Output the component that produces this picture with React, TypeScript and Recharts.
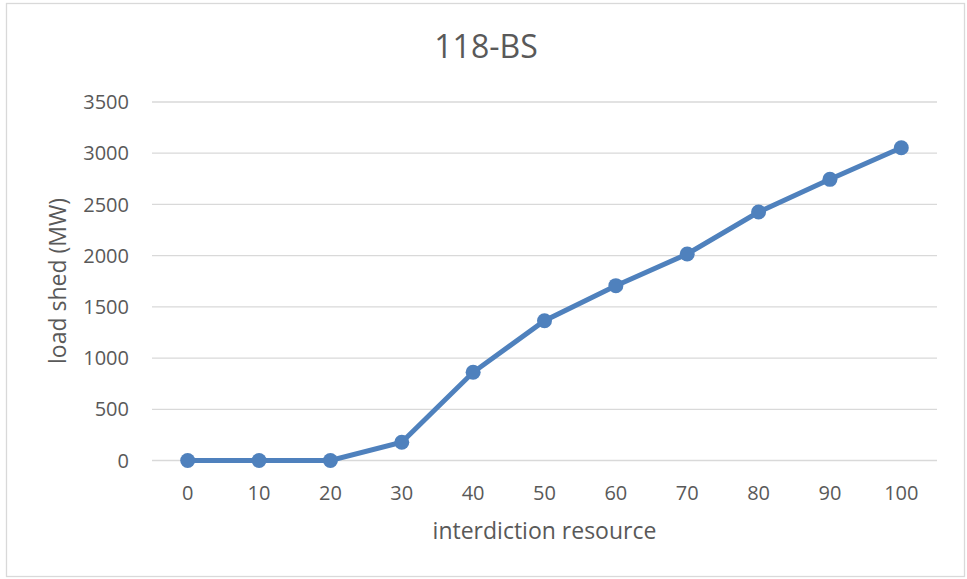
import React from 'react';
import { LineChart, Line, XAxis, YAxis, CartesianGrid, Label } from 'recharts';

const categories: number[] = [0, 10, 20, 30, 40, 50, 60, 70, 80, 90, 100];
const loadShed: number[] = [0, 0, 0, 178, 861, 1365, 1707, 2016, 2426, 2745, 3054];
const yTicks: number[] = [0, 500, 1000, 1500, 2000, 2500, 3000, 3500];

const chartTitle = '118-BS';
const xTitle = 'interdiction resource';
const yTitle = 'load shed (MW)';

const data = categories.map((c, i) => ({ x: String(c), y: loadShed[i] }));

const FONT = '"Open Sans", "Noto Sans", sans-serif';
const TEXT = '#595959';
const GRID = '#d9d9d9';
const BLUE = '#4F81BD';

export default function App() {
  return (
    <div style={{ position: 'absolute', left: 0, top: 0, width: 967, height: 579, background: '#fff', fontFamily: FONT }}>
      <svg width={967} height={579} style={{ position: 'absolute', left: 0, top: 0 }}>
        <rect x={6.5} y={3.5} width={958} height={573} fill="#fff" stroke={GRID} strokeWidth={1.3} />
        <text x={486} y={58} textAnchor="middle" fontSize={32} fill={TEXT} fontFamily={FONT}>
          {chartTitle}
        </text>
      </svg>
      <div style={{ position: 'absolute', left: 0, top: 0 }}>
        <LineChart width={967} height={579} data={data} margin={{ top: 102, right: 30, left: 0, bottom: 0 }}>
          <CartesianGrid horizontal={true} vertical={false} stroke={GRID} strokeWidth={1.3} />
          <XAxis
            dataKey="x"
            type="category"
            height={118.5}
            padding={{ left: 35.7, right: 35.7 }}
            axisLine={false}
            tickLine={false}
            tickSize={0}
            tickMargin={25}
            tick={{ fill: TEXT, fontSize: 20, fontFamily: FONT }}
            interval={0}
          >
            <Label
              content={() => (
                <text x={544.5} y={539} textAnchor="middle" fontSize={23} fill={TEXT} fontFamily={FONT}>
                  {xTitle}
                </text>
              )}
            />
          </XAxis>
          <YAxis
            type="number"
            domain={[0, 3500]}
            ticks={yTicks}
            width={152}
            axisLine={false}
            tickLine={false}
            tickSize={0}
            tickMargin={23}
            tick={{ fill: TEXT, fontSize: 20, fontFamily: FONT }}
            interval={0}
          >
            <Label
              content={() => (
                <text
                  x={66}
                  y={281}
                  transform="rotate(-90 66 281)"
                  textAnchor="middle"
                  fontSize={23}
                  fill={TEXT}
                  fontFamily={FONT}
                >
                  {yTitle}
                </text>
              )}
            />
          </YAxis>
          <Line
            type="linear"
            dataKey="y"
            stroke={BLUE}
            strokeWidth={5}
            dot={{ r: 7.5, fill: BLUE, stroke: BLUE, strokeWidth: 0 }}
            activeDot={false}
            isAnimationActive={false}
          />
        </LineChart>
      </div>
    </div>
  );
}
